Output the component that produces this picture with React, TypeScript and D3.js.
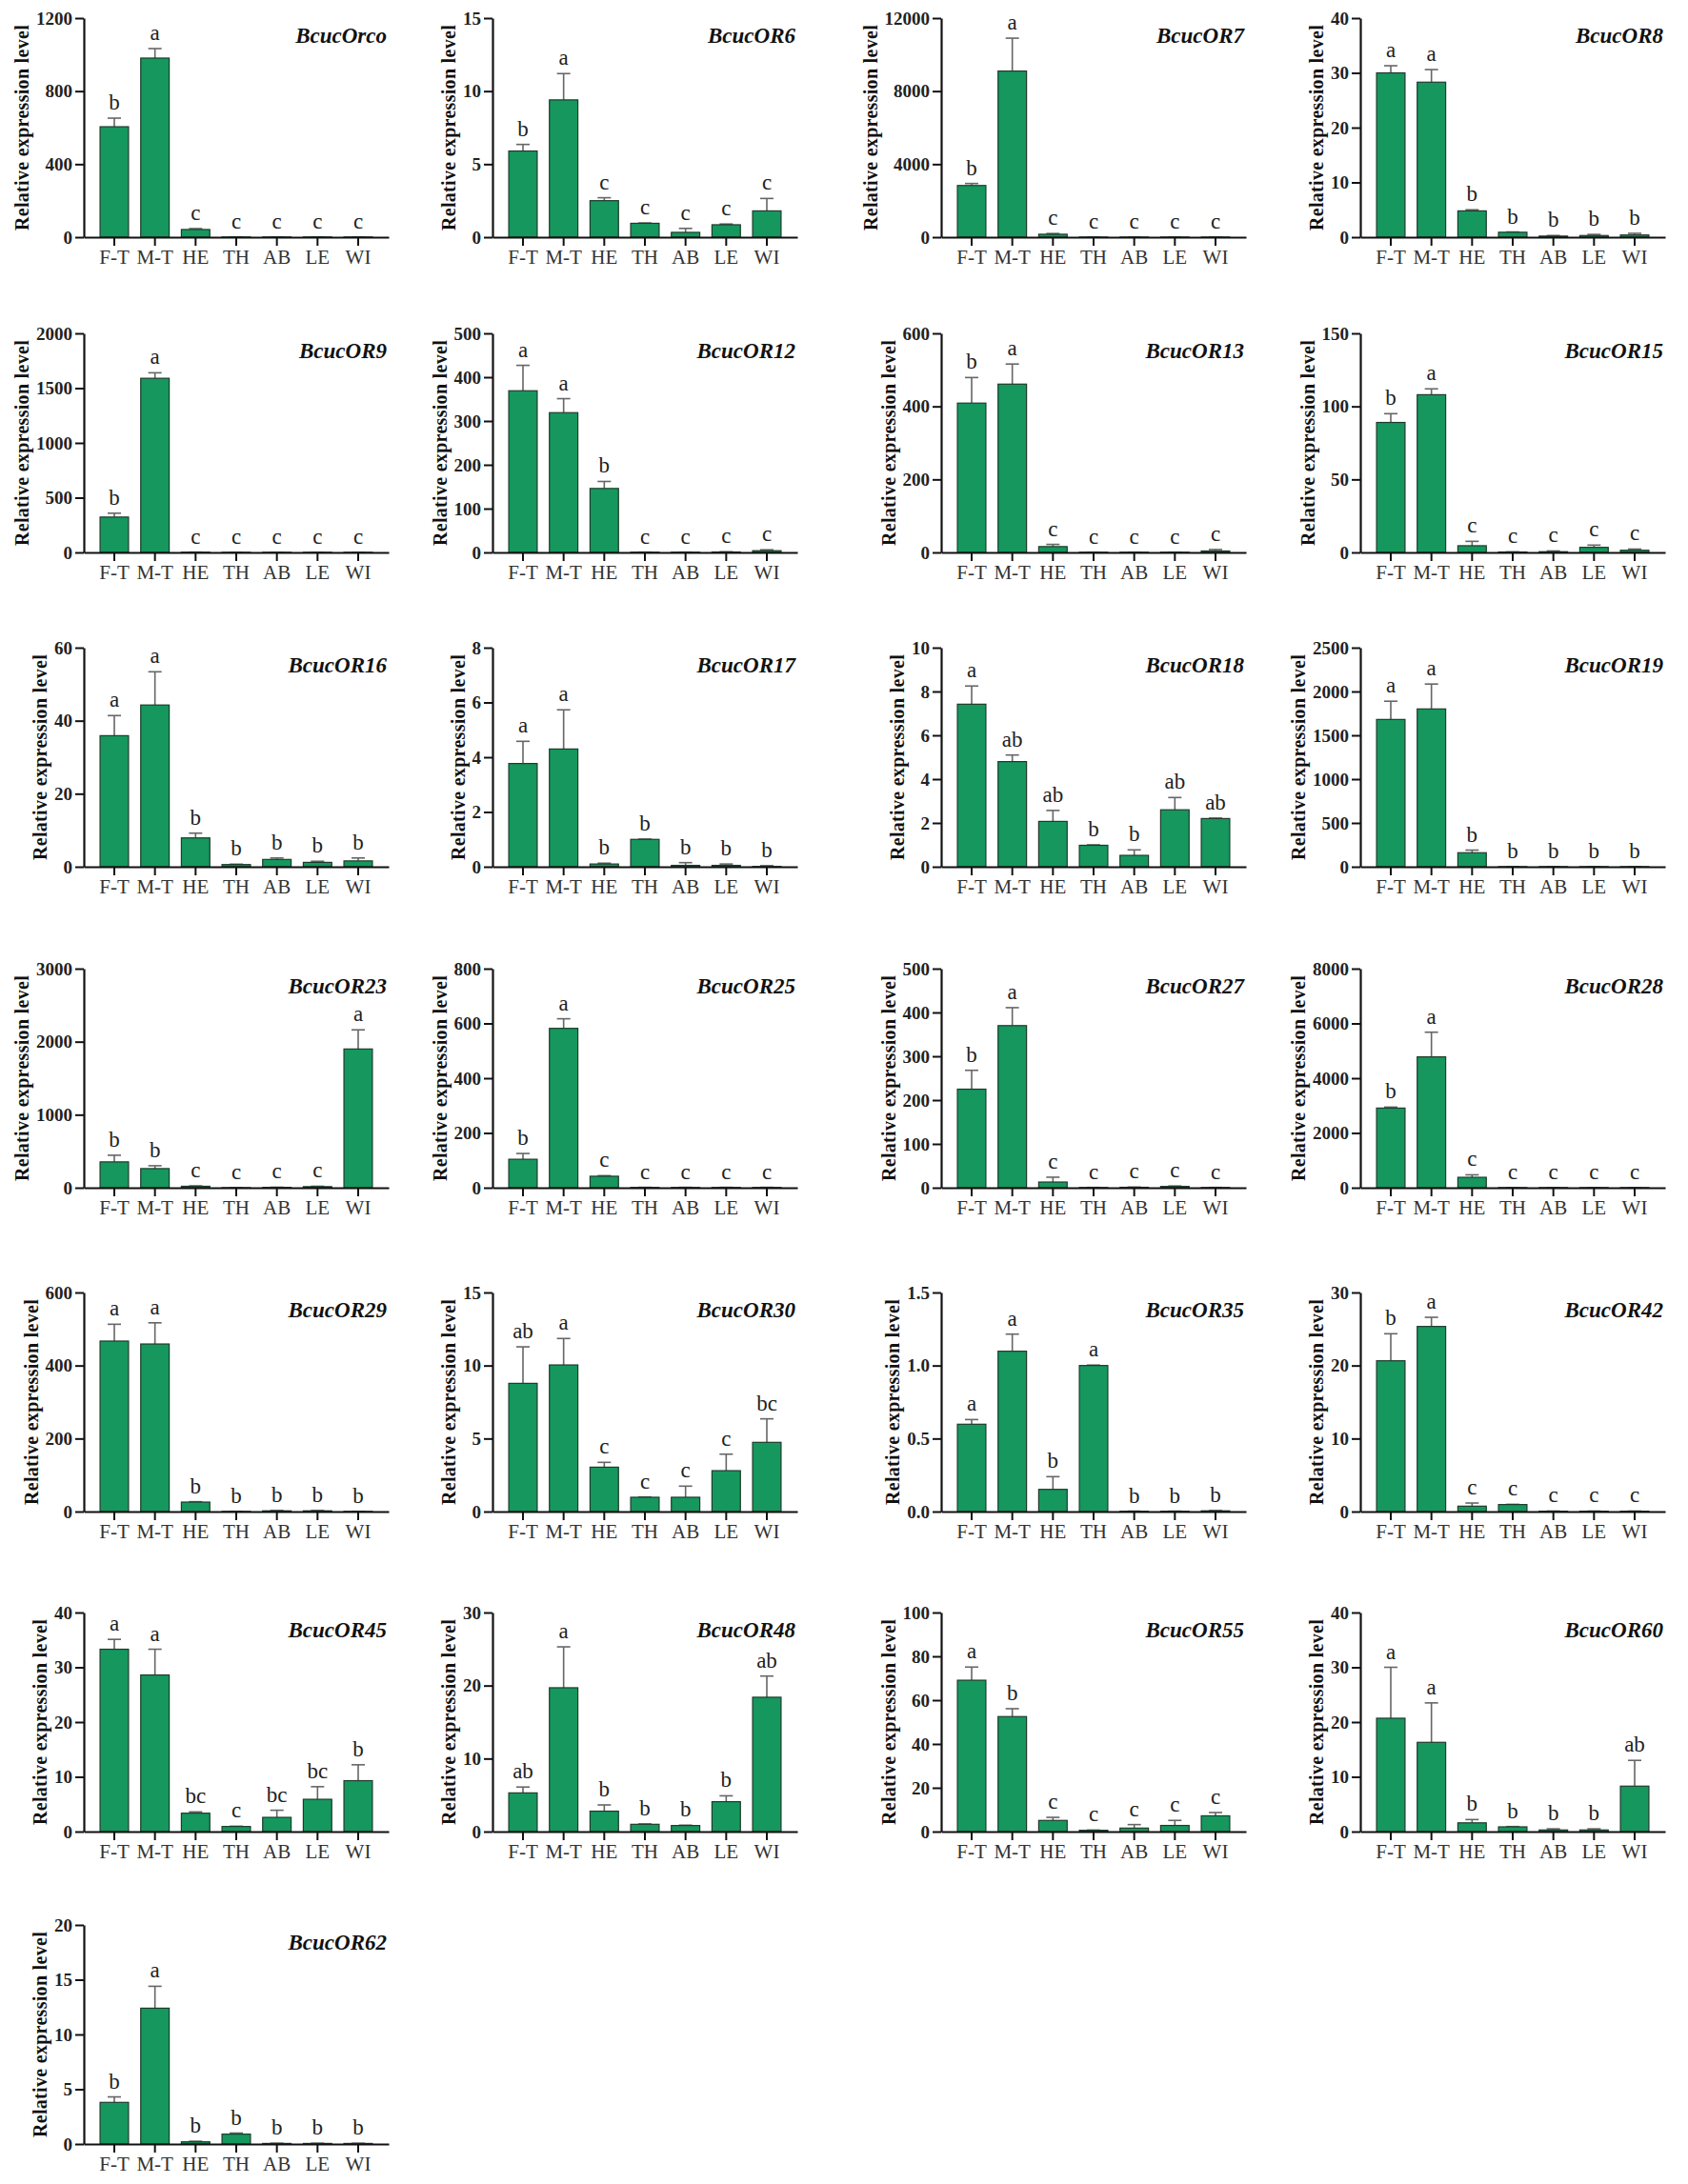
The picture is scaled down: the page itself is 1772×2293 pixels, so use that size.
import { useEffect, useRef } from "react";

import * as d3 from "d3";

// tissues on the x axis
const categories = ["F-T", "M-T", "HE", "TH", "AB", "LE", "WI"];

const genes = [
    "BcucOrco", "BcucOR6", "BcucOR7", "BcucOR8",
    "BcucOR9", "BcucOR12", "BcucOR13", "BcucOR15",
    "BcucOR16", "BcucOR17", "BcucOR18", "BcucOR19",
    "BcucOR23", "BcucOR25", "BcucOR27", "BcucOR28",
    "BcucOR29", "BcucOR30", "BcucOR35", "BcucOR42",
    "BcucOR45", "BcucOR48", "BcucOR55", "BcucOR60",
    "BcucOR62",
];

// y tick values, one row per gene
const yTicks = [
    [0, 400, 800, 1200], [0, 5, 10, 15], [0, 4000, 8000, 12000], [0, 10, 20, 30, 40],
    [0, 500, 1000, 1500, 2000], [0, 100, 200, 300, 400, 500], [0, 200, 400, 600], [0, 50, 100, 150],
    [0, 20, 40, 60], [0, 2, 4, 6, 8], [0, 2, 4, 6, 8, 10], [0, 500, 1000, 1500, 2000, 2500],
    [0, 1000, 2000, 3000], [0, 200, 400, 600, 800], [0, 100, 200, 300, 400, 500], [0, 2000, 4000, 6000, 8000],
    [0, 200, 400, 600], [0, 5, 10, 15], [0, 0.5, 1.0, 1.5], [0, 10, 20, 30],
    [0, 10, 20, 30, 40], [0, 10, 20, 30], [0, 20, 40, 60, 80, 100], [0, 10, 20, 30, 40],
    [0, 5, 10, 15, 20],
];

// mean relative expression (F-T, M-T, HE, TH, AB, LE, WI)
const means = [
    [605, 981, 42, 1, 1, 1, 1],
    [5.9, 9.4, 2.5, 0.95, 0.33, 0.85, 1.8],
    [2830, 9100, 160, 5, 5, 5, 5],
    [30.0, 28.3, 4.8, 0.9, 0.2, 0.3, 0.4],
    [323, 1590, 2, 1, 1, 1, 1],
    [369, 319, 146, 0.5, 0.5, 1, 4],
    [409, 461, 16, 0.5, 0.5, 0.5, 4],
    [89, 108, 4.6, 0.3, 0.5, 3.5, 1.5],
    [35.9, 44.3, 7.9, 0.6, 2.0, 1.2, 1.6],
    [3.77, 4.3, 0.1, 1.0, 0.05, 0.05, 0.01],
    [7.42, 4.8, 2.07, 0.98, 0.52, 2.6, 2.2],
    [1681, 1801, 160, 1, 1, 1, 1],
    [354, 262, 20, 1, 5, 15, 1900],
    [104, 582, 42, 1, 1, 1, 1],
    [225, 370, 13, 0.5, 1, 3, 0.5],
    [2909, 4779, 381, 5, 5, 5, 5],
    [467, 459, 26, 0.5, 2, 2, 0.5],
    [8.78, 10.04, 3.04, 0.98, 0.98, 2.8, 4.74],
    [0.598, 1.098, 0.152, 1.0, 0.002, 0.002, 0.005],
    [20.65, 25.35, 0.74, 0.96, 0.05, 0.05, 0.05],
    [33.3, 28.6, 3.36, 0.93, 2.6, 5.9, 9.3],
    [5.3, 19.7, 2.8, 1.0, 0.83, 4.1, 18.4],
    [69.1, 52.5, 5.1, 0.6, 1.6, 2.8, 7.2],
    [20.7, 16.3, 1.6, 0.87, 0.3, 0.3, 8.3],
    [3.8, 12.4, 0.2, 0.9, 0.05, 0.05, 0.05],
];

// upper error (SE)
const errors = [
    [47, 52, 5, 0.5, 0.5, 0.5, 0.5],
    [0.45, 1.8, 0.2, 0.02, 0.27, 0.05, 0.85],
    [110, 1800, 40, 2, 2, 2, 2],
    [1.3, 2.3, 0.2, 0.05, 0.1, 0.2, 0.3],
    [35, 50, 1, 0.5, 0.5, 0.5, 0.5],
    [58, 32, 16, 0.2, 0.2, 0.5, 2],
    [70, 55, 6, 0.2, 0.2, 0.2, 4],
    [6, 4, 3, 0.1, 0.5, 1.5, 0.8],
    [5.5, 9.1, 1.3, 0.1, 0.4, 0.3, 0.8],
    [0.81, 1.43, 0.03, 0.01, 0.1, 0.05, 0.03],
    [0.83, 0.3, 0.5, 0.02, 0.25, 0.56, 0.02],
    [208, 284, 30, 0.5, 0.5, 0.5, 0.5],
    [91, 39, 5, 0.5, 2, 5, 262],
    [21, 35, 2, 0.5, 0.5, 0.5, 0.5],
    [43, 41, 11, 0.2, 0.5, 1, 0.2],
    [35, 900, 90, 2, 2, 2, 2],
    [46, 58, 1, 0.2, 1, 1, 0.2],
    [2.5, 1.81, 0.33, 0.02, 0.76, 1.13, 1.61],
    [0.032, 0.117, 0.087, 0.003, 0.001, 0.001, 0.002],
    [3.7, 1.25, 0.43, 0.03, 0.02, 0.02, 0.02],
    [1.8, 4.7, 0.24, 0.05, 1.3, 2.3, 2.9],
    [0.8, 5.6, 0.85, 0.05, 0.05, 0.8, 2.9],
    [6.0, 3.6, 1.4, 0.1, 1.6, 2.3, 1.5],
    [9.3, 7.2, 0.6, 0.05, 0.2, 0.2, 4.7],
    [0.5, 2.0, 0.05, 0.1, 0.02, 0.02, 0.02],
];

// significance letters
const letters = [
    ["b", "a", "c", "c", "c", "c", "c"],
    ["b", "a", "c", "c", "c", "c", "c"],
    ["b", "a", "c", "c", "c", "c", "c"],
    ["a", "a", "b", "b", "b", "b", "b"],
    ["b", "a", "c", "c", "c", "c", "c"],
    ["a", "a", "b", "c", "c", "c", "c"],
    ["b", "a", "c", "c", "c", "c", "c"],
    ["b", "a", "c", "c", "c", "c", "c"],
    ["a", "a", "b", "b", "b", "b", "b"],
    ["a", "a", "b", "b", "b", "b", "b"],
    ["a", "ab", "ab", "b", "b", "ab", "ab"],
    ["a", "a", "b", "b", "b", "b", "b"],
    ["b", "b", "c", "c", "c", "c", "a"],
    ["b", "a", "c", "c", "c", "c", "c"],
    ["b", "a", "c", "c", "c", "c", "c"],
    ["b", "a", "c", "c", "c", "c", "c"],
    ["a", "a", "b", "b", "b", "b", "b"],
    ["ab", "a", "c", "c", "c", "c", "bc"],
    ["a", "a", "b", "a", "b", "b", "b"],
    ["b", "a", "c", "c", "c", "c", "c"],
    ["a", "a", "bc", "c", "bc", "bc", "b"],
    ["ab", "a", "b", "b", "b", "b", "ab"],
    ["a", "b", "c", "c", "c", "c", "c"],
    ["a", "a", "b", "b", "b", "b", "ab"],
    ["b", "a", "b", "b", "b", "b", "b"],
];

const svg_width = 1772;
const svg_height = 2293;
const col_x = [88, 517, 988, 1428];
const row_top = [19, 350, 680, 1017, 1357, 1693, 2021];
const plot_w = 320;
const plot_h = 230;

const font = "'Liberation Serif', 'Times New Roman', serif";
const bar_color = "#15975e";
const tick_font_size = 19;

export default function App() {
    const ref = useRef<SVGSVGElement>(null);

    useEffect(() => {
        const svg = d3.select(ref.current);
        svg.selectAll("*").remove();

        // used to place the y label just outside the tick labels
        const ctx = document.createElement("canvas").getContext("2d")!;
        ctx.font = "bold " + tick_font_size + "px " + font;

        genes.forEach((gene, i) => {
            const ticks = yTicks[i];
            const yMax = ticks[ticks.length - 1];
            const fmt = yMax < 2 ? d3.format(".1f") : d3.format("d");

            const g = svg.append("g")
                .attr("transform", "translate(" + col_x[i % 4] + "," + row_top[Math.floor(i / 4)] + ")");

            const x = d3.scaleBand()
                .domain(categories)
                .range([0, plot_w])
                .paddingInner(0.3)
                .paddingOuter(0.4);

            const y = d3.scaleLinear()
                .domain([0, yMax])
                .range([plot_h, 0]);

            const rows = categories.map((c, j) => ({ c, m: means[i][j], e: errors[i][j], s: letters[i][j] }));
            const cx = (c: string) => (x(c) ?? 0) + x.bandwidth() / 2;

            // error bars (upper only)
            const err = g.append("g")
                .attr("stroke", "#666")
                .attr("stroke-width", 1.6);
            err.selectAll("line.v")
                .data(rows)
                .enter().append("line")
                    .attr("class", "v")
                    .attr("x1", d => cx(d.c))
                    .attr("x2", d => cx(d.c))
                    .attr("y1", d => y(d.m))
                    .attr("y2", d => y(d.m + d.e));
            err.selectAll("line.cap")
                .data(rows)
                .enter().append("line")
                    .attr("class", "cap")
                    .attr("x1", d => cx(d.c) - 7)
                    .attr("x2", d => cx(d.c) + 7)
                    .attr("y1", d => y(d.m + d.e))
                    .attr("y2", d => y(d.m + d.e));

            // bars
            g.append("g")
                .selectAll("rect")
                .data(rows)
                .enter().append("rect")
                    .attr("x", d => x(d.c) ?? 0)
                    .attr("y", d => y(d.m))
                    .attr("width", x.bandwidth())
                    .attr("height", d => plot_h - y(d.m))
                    .attr("fill", bar_color)
                    .attr("stroke", "#1d3b2b")
                    .attr("stroke-width", 1.2);

            // significance letters
            g.append("g")
                .selectAll("text")
                .data(rows)
                .enter().append("text")
                    .attr("x", d => cx(d.c))
                    .attr("y", d => Math.min(y(d.m + d.e), plot_h) - 9)
                    .attr("text-anchor", "middle")
                    .attr("font-family", font)
                    .attr("font-size", 23)
                    .attr("fill", "#222")
                    .text(d => d.s);

            // x axis
            const xAxis = g.append("g")
                .attr("transform", "translate(0," + plot_h + ")")
                .call(d3.axisBottom(x).tickSize(9).tickSizeOuter(0).tickPadding(4));
            xAxis.select(".domain").attr("stroke", "#111").attr("stroke-width", 2.2);
            xAxis.selectAll(".tick line").attr("stroke", "#111").attr("stroke-width", 2);
            xAxis.selectAll("text")
                .attr("font-family", font)
                .attr("font-size", 21)
                .attr("fill", "#333");

            // y axis
            const yAxis = g.append("g")
                .call(d3.axisLeft(y).tickValues(ticks).tickSize(9).tickSizeOuter(0).tickPadding(3)
                    .tickFormat(d => fmt(d as number)));
            yAxis.select(".domain").attr("stroke", "#111").attr("stroke-width", 2.2);
            yAxis.selectAll(".tick line").attr("stroke", "#111").attr("stroke-width", 2);
            yAxis.selectAll("text")
                .attr("font-family", font)
                .attr("font-weight", "bold")
                .attr("font-size", tick_font_size)
                .attr("fill", "#222");

            const tickW = d3.max(ticks, t => ctx.measureText(fmt(t)).width) ?? 0;

            g.append("text")
                .attr("transform", "translate(" + (-(9 + 3 + tickW + 8)) + "," + (plot_h / 2) + ") rotate(-90)")
                .attr("text-anchor", "middle")
                .attr("font-family", font)
                .attr("font-weight", "bold")
                .attr("font-size", 20)
                .attr("letter-spacing", 0.3)
                .attr("fill", "#111")
                .text("Relative expression level");

            // gene name
            g.append("text")
                .attr("x", plot_w - 2)
                .attr("y", 26)
                .attr("text-anchor", "end")
                .attr("font-family", font)
                .attr("font-weight", "bold")
                .attr("font-style", "italic")
                .attr("font-size", 23)
                .attr("fill", "#111")
                .text(gene);
        });

        return () => {
            svg.selectAll("*").remove();
        };
    }, [ref]);

    return (
        <svg
            ref={ref}
            width={svg_width}
            height={svg_height}
            style={{ position: "absolute", left: 0, top: 0, background: "white" }}
        />
    );
}
